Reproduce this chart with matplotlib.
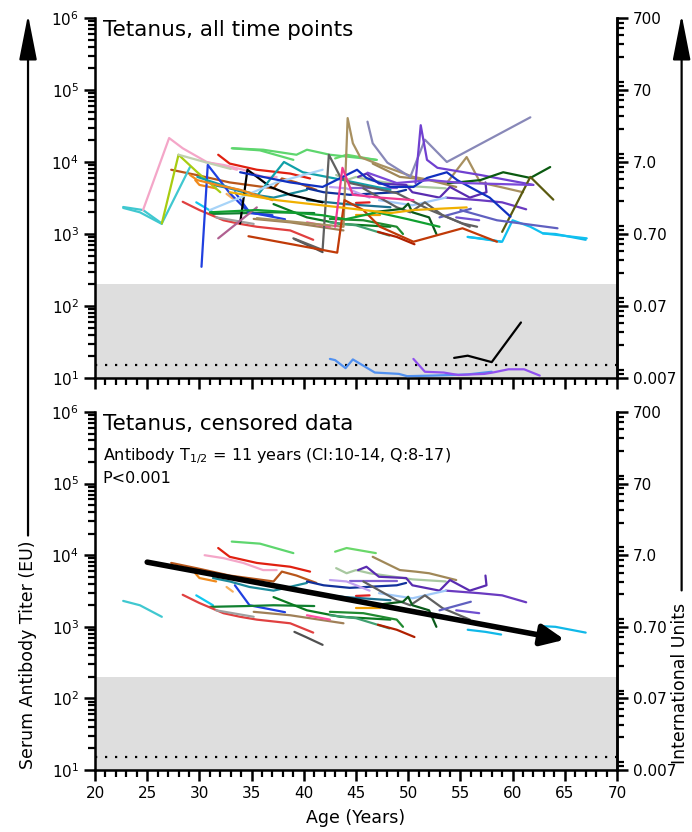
import matplotlib
matplotlib.use("Agg")
import matplotlib.pyplot as plt
from matplotlib.ticker import LogLocator, FixedLocator, NullFormatter, MultipleLocator

# ---- censored data (bottom panel, also drawn on top panel) ----
cens_ages = [
    [22.7, 24.3, 26.4],
    [30.5, 32.3, 34.2, 36.1, 37.4],
    [31.8, 32.9, 35.5, 38.7, 40.6],
    [33.1, 35.8, 39.0],
    [43.0, 44.1, 46.9],
    [27.3, 29.7, 32.9, 37.1, 37.9, 39.3, 41.2],
    [29.6, 30.0, 31.6],
    [32.6, 33.2],
    [31.3, 32.9, 34.8, 37.1, 40.3],
    [33.4, 34.8, 38.2],
    [29.7, 31.3],
    [31.0, 34.5, 37.1, 41.0],
    [37.1, 40.3, 43.5, 48.3],
    [28.4, 30.0, 32.3, 33.9, 35.5, 38.7, 40.9],
    [31.6, 35.2],
    [35.2, 38.7, 43.8],
    [39.1, 40.2, 41.8],
    [40.3, 42.5],
    [46.6, 49.2, 50.7, 52.0, 54.6],
    [43.1, 44.1, 45.0, 46.3, 50.4, 53.6],
    [45.2, 46.0, 47.2, 49.8, 50.4, 53.0, 54.0, 55.9, 57.5, 57.4],
    [53.6, 56.8, 59.0, 61.3],
    [44.4, 48.9],
    [40.3, 41.9, 44.4, 48.9, 49.8],
    [42.5, 44.1, 46.3],
    [47.2, 50.4, 53.6],
    [45.7, 48.9, 50.2, 51.6, 53.3, 55.9],
    [46.6, 49.5, 50.0, 50.4, 52.0, 52.7],
    [42.5, 45.7, 48.9, 49.5],
    [42.5, 45.0, 46.6, 48.2],
    [47.1, 48.9, 50.6],
    [45.0, 46.3],
    [45.0, 47.3],
    [53.0, 56.0],
    [54.6, 56.8],
    [55.7, 57.4, 58.9],
    [62.9, 64.1, 67.0],
    [40.3, 44.0, 48.3],
]
cens_titers = [
    [2300, 2000, 1380],
    [10000, 9100, 7800, 6200, 6200],
    [12600, 9500, 7800, 6900, 5900],
    [15500, 14500, 10700],
    [11200, 12600, 10700],
    [7800, 6600, 5200, 4300, 5900, 5200, 4100],
    [5600, 4800, 4300],
    [3600, 3100],
    [4800, 4300, 3600, 3200, 4100],
    [3800, 2000, 1600],
    [2750, 2000],
    [1900, 1950, 2000, 1950],
    [2600, 1700, 1380, 1260],
    [2800, 2150, 1550, 1380, 1260, 1120, 830],
    [1700, 1380],
    [1620, 1450, 1120],
    [850, 720, 560],
    [1450, 1260],
    [9500, 6200, 5900, 5600, 4500],
    [6600, 5600, 6200, 5600, 4600, 4300],
    [6200, 6900, 5000, 4800, 3800, 3200, 4500, 3200, 3800, 5200],
    [3200, 2950, 2750, 2200],
    [4300, 4300],
    [4300, 3800, 3500, 3800, 4100],
    [4500, 4300, 3200],
    [2950, 2500, 3200],
    [4300, 2350, 2000, 2750, 1820, 1260],
    [2000, 2240, 2630, 2000, 1700, 1000],
    [1620, 1550, 1260, 1000],
    [1450, 1320, 1120, 950],
    [1070, 910, 720],
    [2700, 2750],
    [1820, 1820],
    [1700, 2240],
    [1700, 1550],
    [910, 850, 780],
    [1020, 1000, 830],
    [2950, 2600, 2350],
]
cens_colors = [
    "#40c8d0", "#f4a6c8", "#e02010", "#5ed66e", "#6ad86a", "#b8561a",
    "#f08a1c", "#f6b060", "#1a8a9a", "#2040e0", "#10c8f0", "#108030",
    "#0a7a20", "#e04040", "#a0a0a0", "#a08058", "#505050", "#ff50a0",
    "#a08858", "#a8c8a0", "#5a2cb0", "#6a3ac0", "#8060d0", "#10309a",
    "#c0a0f0", "#a0c8f8", "#606060", "#0a5a1a", "#208a30", "#40a070",
    "#b02000", "#e02020", "#f0a000", "#6060c0", "#7050d0", "#10b8e8",
    "#10b8e8", "#1a7090",
]

# ---- extra time points (top panel only: boosts and low titers) ----
full_ages = [
    [22.7, 24.6, 26.4, 29.1],
    [24.6, 27.1, 28.4, 30.7, 33.6],
    [26.4, 28.0, 29.8, 32.0],
    [28.0, 30.5, 33.0],
    [30.2, 30.8, 32.9, 34.8, 37.0],
    [33.9, 34.6, 36.8, 38.7, 41.8],
    [33.2, 36.1, 39.3, 40.3, 42.5, 47.0],
    [29.8, 32.9, 35.6, 38.1, 39.9, 43.8, 48.3],
    [39.0, 41.8, 42.4, 43.5, 44.4, 48.9, 52.1, 55.2, 56.6],
    [35.5, 43.8, 44.2, 44.7, 45.4, 47.3, 50.5, 53.7, 55.6, 56.9, 59.1, 61.0],
    [46.1, 46.6, 48.0, 50.2, 51.6, 53.7, 61.7],
    [50.7, 51.2, 51.8, 52.8, 56.9, 62.0],
    [53.8, 54.7, 56.9, 59.1, 61.7, 63.6],
    [59.0, 61.7, 63.9],
    [55.7, 59.0, 60.0, 61.7, 62.9, 67.1],
    [34.7, 43.2, 43.9, 45.7, 47.3, 50.5, 55.2, 58.5],
    [31.8, 35.5],
    [31.0, 33.9, 37.4, 41.8],
    [31.0, 35.5, 38.7, 41.8, 44.0, 47.0, 50.0, 53.0],
    [29.1, 29.8, 31.7, 33.9, 37.0],
    [32.9, 37.4, 48.3, 50.5, 55.6],
    [33.9, 38.7, 41.8, 45.1, 46.0, 48.3, 50.5, 51.8, 53.7, 54.7, 55.9, 57.8, 59.8],
    [46.1, 48.9, 52.1, 55.2, 61.9],
    [43.0, 43.7, 44.7, 47.3, 50.5],
    [55.0, 58.5, 64.3],
    [42.5, 43.0, 44.0, 44.7, 46.8, 49.1, 49.9, 52.4, 55.7, 58.0],
    [50.5, 51.6, 53.4, 54.8, 56.0, 57.3, 58.1, 59.6, 61.1, 62.6],
    [54.4, 55.7, 58.0, 60.8],
]
full_titers = [
    [2370, 2150, 1400, 8500],
    [2150, 21500, 15500, 10000, 7800],
    [1400, 12600, 7200, 3800],
    [12600, 10000, 8000],
    [350, 9100, 3700, 1950, 1820],
    [1400, 7800, 4500, 3500, 2750],
    [15500, 14800, 12600, 14800, 12600, 10700],
    [6200, 4400, 3500, 10000, 7200, 5600, 4100],
    [870, 600, 12600, 6200, 5100, 3700, 2150, 1400, 1260],
    [1660, 1260, 40700, 18200, 11700, 9100, 6200, 5100, 11700, 5200, 4400, 3800],
    [36300, 18200, 9800, 6200, 20400, 10000, 41700],
    [5100, 32400, 10700, 8300, 6600, 4800],
    [5100, 5200, 5600, 7200, 6000, 8500],
    [1070, 6200, 3000],
    [910, 780, 1550, 1260, 1020, 870],
    [930, 550, 2950, 2150, 1260, 780, 1200, 780],
    [870, 2340],
    [2150, 3200, 5200, 7800],
    [2000, 2150, 2000, 1820, 1600, 2000, 1600, 1260],
    [6600, 5600, 4800, 4100, 2950],
    [3800, 2950, 1950, 2150, 2340],
    [7200, 5200, 4500, 7800, 6000, 4500, 4500, 6000, 7200, 5600, 4500, 3200, 1740],
    [7100, 5100, 5600, 5100, 4800],
    [1260, 8300, 3500, 3200, 2950],
    [2150, 1550, 1200],
    [18.4, 17.7, 13.7, 18.1, 11.9, 11.4, 10.6, 10.8, 11.2, 12.2],
    [18.4, 12.2, 11.9, 11.0, 11.2, 11.4, 11.9, 13.2, 13.2, 10.8],
    [19, 20.4, 16.6, 59],
]
full_colors = [
    "#40c8d0", "#f4a6c8", "#a8cc10", "#c0d0b0", "#2040e0", "#000000",
    "#5ed66e", "#10a0a8", "#606060", "#a89060", "#8888b8", "#7040d0",
    "#0a5a10", "#5a5a10", "#10c0f0", "#c03a08", "#b06090", "#a8d4f8",
    "#10a030", "#f08a1c", "#f0b000", "#1030c0", "#7a48d8", "#f03890",
    "#6060c0", "#5090f0", "#9050f0", "#000000",
]

# fit line end points (censored panel)
fit_ages = [25, 65]
fit_titers = [8000, 660]

right_ticks = [0.007, 0.07, 0.7, 7, 70, 700]
right_labels = ["0.007", "0.07", "0.70", "7.0", "70", "700"]
eu_per_iu = 1e6 / 700.0

fig = plt.figure(figsize=(6.92, 8.32), dpi=100)
ax1 = fig.add_axes([0.1373, 0.5457, 0.7543, 0.4327])
ax2 = fig.add_axes([0.1373, 0.0745, 0.7543, 0.4303])


def style_axes(ax, show_xlabels):
    ax.set_yscale("log")
    ax.set_xlim(20, 70)
    ax.set_ylim(10, 1e6)
    ax.axhspan(10, 200, color="#dedede", zorder=0, lw=0)
    ax.plot([20, 70], [15, 15], ls=(0, (1, 3.5)), color="black", lw=1.6, zorder=1)
    ax.spines["top"].set_visible(False)
    for s in ["left", "right", "bottom"]:
        ax.spines[s].set_linewidth(1.8)
    ax.yaxis.set_major_locator(LogLocator(base=10, numticks=10))
    ax.yaxis.set_minor_locator(LogLocator(base=10, subs=range(2, 10), numticks=20))
    ax.yaxis.set_minor_formatter(NullFormatter())
    ax.xaxis.set_major_locator(MultipleLocator(5))
    ax.xaxis.set_minor_locator(MultipleLocator(1))
    ax.tick_params(axis="both", which="major", direction="out", length=8, width=1.8, labelsize=11)
    ax.tick_params(axis="both", which="minor", direction="out", length=5, width=1.6)
    if not show_xlabels:
        ax.tick_params(axis="x", labelbottom=False)
    axr = ax.twinx()
    axr.set_yscale("log")
    axr.set_ylim(10 / eu_per_iu, 1e6 / eu_per_iu)
    axr.spines["top"].set_visible(False)
    axr.spines["right"].set_linewidth(1.8)
    axr.yaxis.set_major_locator(FixedLocator(right_ticks))
    axr.set_yticklabels(right_labels)
    axr.yaxis.set_minor_locator(LogLocator(base=10, subs=range(2, 10), numticks=20))
    axr.yaxis.set_minor_formatter(NullFormatter())
    axr.tick_params(axis="y", which="major", direction="out", length=8, width=1.8, labelsize=11)
    axr.tick_params(axis="y", which="minor", direction="out", length=5, width=1.6)


style_axes(ax1, False)
style_axes(ax2, True)

for a, t, c in zip(cens_ages, cens_titers, cens_colors):
    ax1.plot(a, t, color=c, lw=1.6, solid_capstyle="round", zorder=3)
    ax2.plot(a, t, color=c, lw=1.6, solid_capstyle="round", zorder=3)
for a, t, c in zip(full_ages, full_titers, full_colors):
    ax1.plot(a, t, color=c, lw=1.6, solid_capstyle="round", zorder=3)

ax2.annotate("", xy=(fit_ages[1], fit_titers[1]), xytext=(fit_ages[0], fit_titers[0]),
             arrowprops=dict(arrowstyle="-|>,head_length=1.0,head_width=0.45",
                             lw=4, color="black", mutation_scale=14, shrinkA=0, shrinkB=0),
             zorder=5)

ax1.text(0.015, 0.995, "Tetanus, all time points", transform=ax1.transAxes,
         ha="left", va="top", fontsize=15.5)
ax2.text(0.015, 0.995, "Tetanus, censored data", transform=ax2.transAxes,
         ha="left", va="top", fontsize=15.5)
ax2.text(0.015, 0.905, "Antibody T$_{1/2}$ = 11 years (CI:10-14, Q:8-17)",
         transform=ax2.transAxes, ha="left", va="top", fontsize=11.5)
ax2.text(0.015, 0.835, "P<0.001", transform=ax2.transAxes, ha="left", va="top", fontsize=11.5)

ax2.set_xlabel("Age (Years)", fontsize=12.5, labelpad=6)

fig.text(0.0405, 0.2127, "Serum Antibody Titer (EU)", rotation=90, ha="center", va="center", fontsize=12.5)
fig.text(0.982, 0.179, "International Units", rotation=90, ha="center", va="center", fontsize=12.5)
fig.patches.append(matplotlib.patches.FancyArrowPatch(
    (0.0405, 0.353), (0.0405, 0.9856), transform=fig.transFigure,
    arrowstyle="-|>,head_length=2.8,head_width=0.55", mutation_scale=10, lw=1.6, color="black"))
fig.patches.append(matplotlib.patches.FancyArrowPatch(
    (0.985, 0.287), (0.985, 0.9856), transform=fig.transFigure,
    arrowstyle="-|>,head_length=2.8,head_width=0.55", mutation_scale=10, lw=1.6, color="black"))

fig.savefig("out.png", dpi=100)
